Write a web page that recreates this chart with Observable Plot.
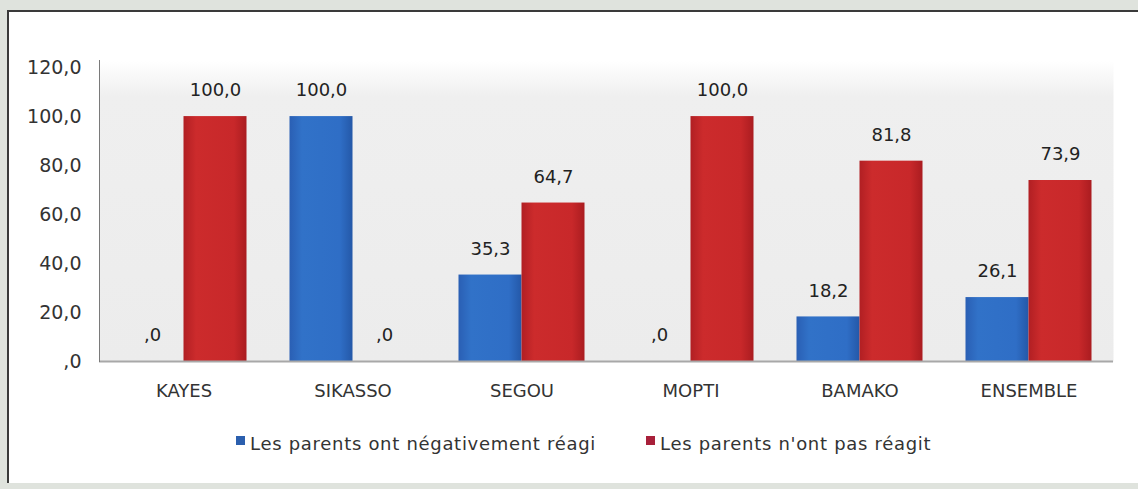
<!DOCTYPE html>
<html>
<head>
<meta charset="utf-8">
<script src="https://cdn.jsdelivr.net/npm/d3@7"></script>
<script src="https://cdn.jsdelivr.net/npm/@observablehq/plot@0.6"></script>
<style>
  html, body { margin: 0; padding: 0; background: #dfe3dd; width: 1138px; height: 489px; overflow: hidden; }
  #wrap { position: relative; width: 1138px; height: 489px; }
  #panel { position: absolute; left: 7px; top: 10px; width: 1140px; height: 473px; background: #fff;
           border-left: 2px solid #3a3a3a; border-top: 2px solid #3a3a3a; box-sizing: border-box; }
  #chart { position: absolute; left: 0; top: 0; }
  #legend { position: absolute; top: 433px; left: 0; width: 1138px; font-family: "DejaVu Sans", sans-serif;
            font-size: 18px; letter-spacing: 0.7px; color: #333; line-height: 21px; }
  .item { position: absolute; top: 0; white-space: nowrap; }
  .sw { display: inline-block; width: 9px; height: 9px; vertical-align: top; margin-top: 3px; margin-right: 5px; }
</style>
</head>
<body>
<div id="wrap">
  <div id="panel"></div>
  <div id="chart"></div>
  <div id="legend"></div>
</div>
<script>
const categories = ["KAYES", "SIKASSO", "SEGOU", "MOPTI", "BAMAKO", "ENSEMBLE"];
const negativement = [0, 100, 35.3, 0, 18.2, 26.1];
const pasReagi = [100, 0, 64.7, 100, 81.8, 73.9];
const seriesNames = ["Les parents ont négativement réagi", "Les parents n'ont pas réagit"];
const yTicks = [0, 20, 40, 60, 80, 100, 120];

const fmt = v => v === 0 ? ",0" : v.toFixed(1).replace(".", ",");

const rowsA = categories.map((c, i) => ({cat: c, value: negativement[i]}));
const rowsB = categories.map((c, i) => ({cat: c, value: pasReagi[i]}));

const band = (1113 - 99) / categories.length;
const barW = 63;
const half = band / 2;

const chart = Plot.plot({
  width: 1138,
  height: 489,
  marginLeft: 99,
  marginRight: 25,
  marginTop: 60,
  marginBottom: 128,
  style: {background: "transparent", fontFamily: "DejaVu Sans, sans-serif", fontSize: "18px", color: "#333"},
  x: {domain: categories, padding: 0, label: null},
  y: {domain: [0, 122.9], label: null},
  marks: [
    Plot.frame({fill: "url(#bgGrad)", stroke: null}),
    Plot.axisY({ticks: yTicks, tickFormat: fmt, tickSize: 0, tickPadding: 18, fontSize: 19, fill: "#333", label: null}),
    Plot.axisX({tickSize: 0, tickPadding: 23, fontSize: 18, fill: "#333", label: null}),
    Plot.barY(rowsA, {x: "cat", y: "value", fill: "url(#blueGrad)", insetLeft: half - barW, insetRight: half}),
    Plot.barY(rowsB, {x: "cat", y: "value", fill: "url(#redGrad)", insetLeft: half, insetRight: half - barW}),
    Plot.ruleY([0], {stroke: "#a8a8a8", strokeWidth: 2}),
    Plot.frame({anchor: "left", stroke: "#7a7a7a", strokeWidth: 1}),
    Plot.text(rowsA, {x: "cat", y: "value", text: d => fmt(d.value), dx: -barW / 2, dy: -26, fontSize: 18, fill: "#222"}),
    Plot.text(rowsB, {x: "cat", y: "value", text: d => fmt(d.value), dx: barW / 2, dy: -26, fontSize: 18, fill: "#222"})
  ]
});

const svg = d3.select(chart);
const defs = svg.insert("defs", ":first-child");
const bg = defs.append("linearGradient").attr("id", "bgGrad").attr("x1", 0).attr("y1", 0).attr("x2", 0).attr("y2", 1);
bg.append("stop").attr("offset", "0%").attr("stop-color", "#ffffff");
bg.append("stop").attr("offset", "12%").attr("stop-color", "#efefef");
bg.append("stop").attr("offset", "100%").attr("stop-color", "#ececec");
const bl = defs.append("linearGradient").attr("id", "blueGrad").attr("x1", 0).attr("y1", 0).attr("x2", 1).attr("y2", 0);
bl.append("stop").attr("offset", "0%").attr("stop-color", "#2a5fb4");
bl.append("stop").attr("offset", "20%").attr("stop-color", "#3172c8");
bl.append("stop").attr("offset", "80%").attr("stop-color", "#2f6ec6");
bl.append("stop").attr("offset", "100%").attr("stop-color", "#2458a8");
const rd = defs.append("linearGradient").attr("id", "redGrad").attr("x1", 0).attr("y1", 0).attr("x2", 1).attr("y2", 0);
rd.append("stop").attr("offset", "0%").attr("stop-color", "#b11f23");
rd.append("stop").attr("offset", "20%").attr("stop-color", "#cc2b2c");
rd.append("stop").attr("offset", "80%").attr("stop-color", "#c8282a");
rd.append("stop").attr("offset", "100%").attr("stop-color", "#aa1c20");

document.getElementById("chart").appendChild(chart);

const colors = ["#2b5fae", "#a8203a"];
const lefts = [236, 646];
const legend = document.getElementById("legend");
seriesNames.forEach((name, i) => {
  const item = document.createElement("div");
  item.className = "item";
  item.style.left = lefts[i] + "px";
  const sw = document.createElement("span");
  sw.className = "sw";
  sw.style.background = colors[i];
  item.appendChild(sw);
  item.appendChild(document.createTextNode(name));
  legend.appendChild(item);
});
</script>
</body>
</html>
